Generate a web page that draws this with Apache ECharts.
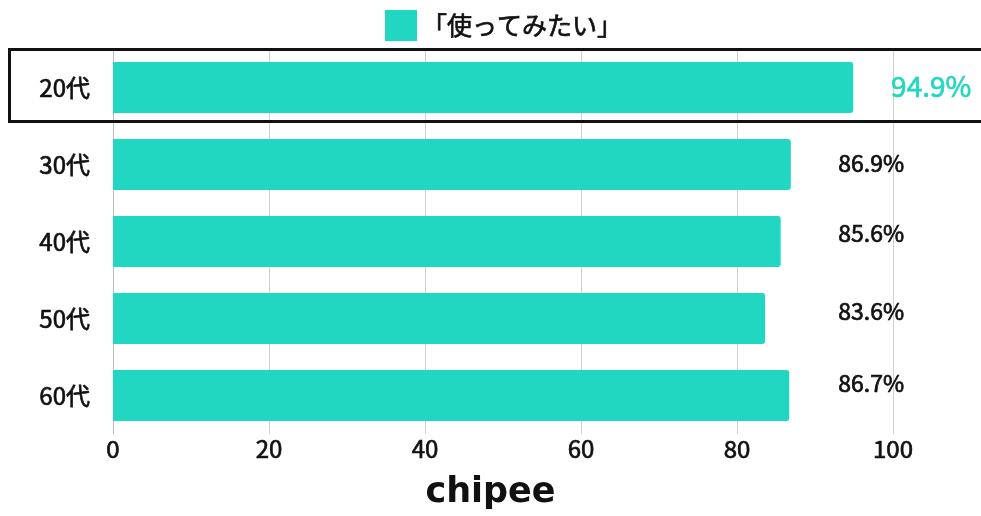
<!DOCTYPE html>
<html><head><meta charset="utf-8">
<script src="https://cdn.jsdelivr.net/npm/echarts@6/dist/echarts.min.js"></script>
<style>html,body{margin:0;padding:0;background:#fff}#c{width:981px;height:516px}</style>
</head><body><div id="c"></div>
<script>
const categories = ['20代','30代','40代','50代','60代'];
const values = [94.9, 86.9, 85.6, 83.6, 86.7];
const seriesName = '「使ってみたい」';
const xTicks = [0, 20, 40, 60, 80, 100];
const teal = '#22D7C1';
const FONT = '"Noto Sans CJK JP", "Noto Sans", sans-serif';
const med = c => ({textBorderColor: c, textBorderWidth: 0.7});

const chart = echarts.init(document.getElementById('c'));
const labelX = [104.9, 97.2, 97.2, 97.2, 97.2];
const labelDy = [-1, -1, -8, -7, -12];
chart.setOption({
  animation: false,
  grid: {left: 113, right: 88, top: 49, bottom: 82, containLabel: false},
  legend: {
    top: 10, left: 385, padding: 0, itemWidth: 32, itemHeight: 31, itemGap: 7,
    icon: 'rect',
    textStyle: Object.assign({fontFamily: FONT, fontSize: 25, color: '#111'}, med('#111')),
    data: [seriesName]
  },
  xAxis: {
    type: 'value', min: 0, max: 100, interval: 20,
    axisLine: {show: false}, axisTick: {show: false},
    splitLine: {show: true, lineStyle: {color: '#d0d0d0', width: 1}},
    axisLabel: Object.assign({fontFamily: FONT, fontSize: 24, color: '#111', margin: 3,
      formatter: v => xTicks.includes(v) ? String(v) : ''}, med('#111'))
  },
  yAxis: {
    type: 'category', data: categories, inverse: true,
    axisLine: {show: true, lineStyle: {color: '#bbb'}}, axisTick: {show: false},
    axisLabel: Object.assign({fontFamily: FONT, fontSize: 24, color: '#111', margin: 23}, med('#111'))
  },
  series: [
    {
      name: seriesName, type: 'bar', data: values, barCategoryGap: '34%',
      itemStyle: {color: teal, borderRadius: [0, 3, 3, 0]}
    },
    {
      type: 'scatter', symbolSize: 0, silent: true, clip: false,
      itemStyle: {opacity: 1},
      data: values.map((v, i) => ({
        value: [labelX[i], categories[i]],
        label: Object.assign({
          show: true, position: 'inside', offset: [0, labelDy[i]],
          formatter: v.toFixed(1) + '%',
          fontFamily: FONT, opacity: 1,
          fontSize: i === 0 ? 28 : 23,
          color: i === 0 ? teal : '#111'
        }, med(i === 0 ? teal : '#111'))
      }))
    }
  ],
  graphic: [
    {type: 'rect', shape: {x: 9.5, y: 49.5, width: 990, height: 72}, style: {fill: 'none', stroke: '#111', lineWidth: 3}, z: 100},
    {type: 'text', left: 'center', top: 475, style: {text: 'chipee', font: 'bold 35px "DejaVu Sans", sans-serif', fill: '#111'}}
  ]
});
</script></body></html>
